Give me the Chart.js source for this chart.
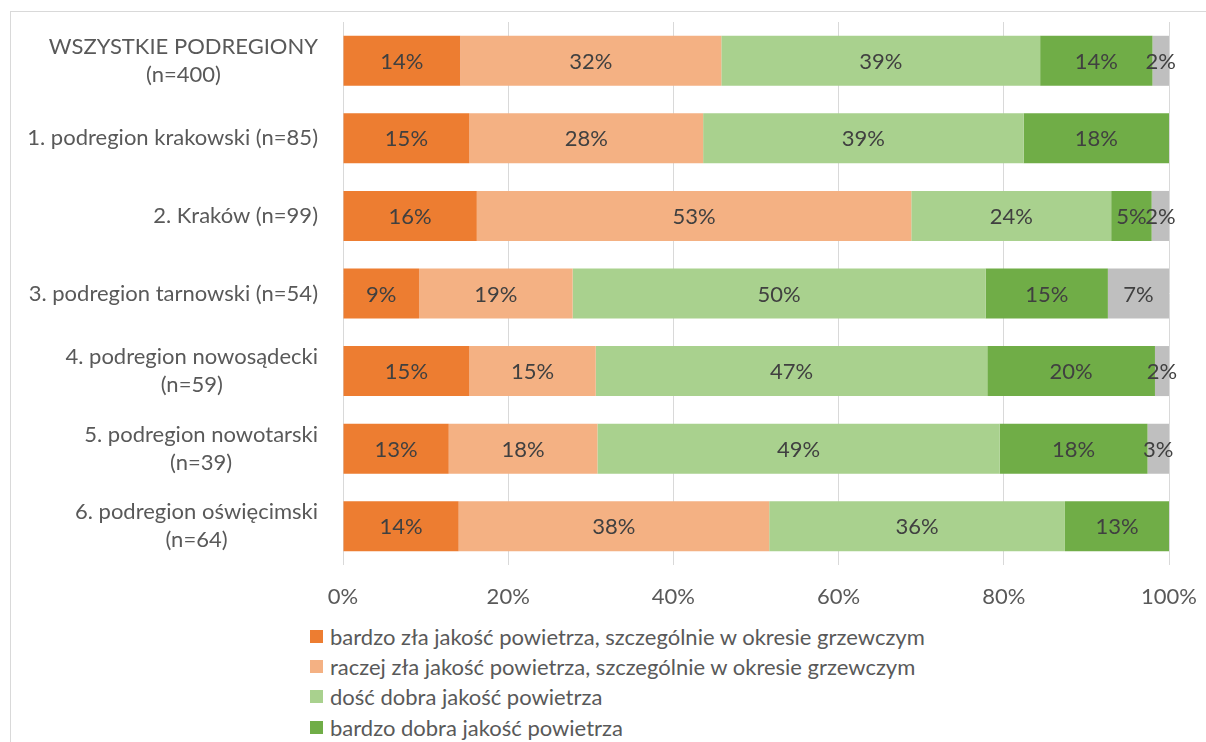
<!DOCTYPE html>
<html lang="pl">
<head>
<meta charset="utf-8">
<title>Jakość powietrza – podregiony</title>
<script src="https://cdn.jsdelivr.net/npm/chart.js@4.4.1/dist/chart.umd.min.js"></script>
<style>
  html, body { margin: 0; padding: 0; background: #fff; overflow: hidden; }
  body { width: 1206px; height: 742px; position: relative; font-family: Lato, "Open Sans", sans-serif; }
  #frame { position: absolute; left: 10px; top: 11px; width: 1300px; height: 900px; border: 1px solid #d9d9d9; box-sizing: border-box; }
  #wrap { position: absolute; left: 0; top: 0; width: 1206px; height: 615px; }
  #legend { position: absolute; left: 310px; top: 621px; margin: 0; padding: 0; list-style: none; }
  #legend li { display: flex; align-items: center; height: 30.4px; font-size: 22px; color: #595959; white-space: nowrap; }
  #legend span.box { display: inline-block; width: 13px; height: 13px; margin-right: 7px; }
</style>
</head>
<body>
<div id="frame"></div>
<div id="wrap"><canvas id="myChart"></canvas></div>
<ul id="legend"></ul>
<script>
const categories = [
  ['WSZYSTKIE PODREGIONY', '(n=400)'],
  '1. podregion krakowski (n=85)',
  '2. Kraków (n=99)',
  '3. podregion tarnowski (n=54)',
  ['4. podregion nowosądecki', '(n=59)'],
  ['5. podregion nowotarski', '(n=39)'],
  ['6. podregion oświęcimski', '(n=64)']
];

const seriesNames = [
  'bardzo zła jakość powietrza, szczególnie w okresie grzewczym',
  'raczej zła jakość powietrza, szczególnie w okresie grzewczym',
  'dość dobra jakość powietrza',
  'bardzo dobra jakość powietrza',
  'trudno powiedzieć'
];

// percent of answers per subregion
const veryBad  = [14.2, 15.3, 16.2,  9.2, 15.3, 12.8, 14.0];
const ratherBad = [31.6, 28.3, 52.6, 18.6, 15.3, 18.0, 37.6];
const fairlyGood = [38.6, 38.8, 24.2, 50.0, 47.4, 48.7, 35.8];
const veryGood = [13.6, 17.6,  4.9, 14.8, 20.3, 17.9, 12.6];
const dontKnow = [ 2.0,  0.0,  2.1,  7.4,  1.7,  2.6,  0.0];

const xTicks = [0, 20, 40, 60, 80, 100];

const seriesColors = [
  '#ED7D31', // ciemny pomarańcz
  '#F4B183', // jasny pomarańcz
  '#A9D18E', // jasna zieleń
  '#70AD47', // zieleń
  '#BFBFBF'  // szary
];

const textFont = 'Lato, "Open Sans", sans-serif';
const fontSize = 22;

// labels inside the bar segments
const segmentLabels = {
  id: 'segmentLabels',
  afterDatasetsDraw(chart) {
    const ctx = chart.ctx;
    ctx.save();
    ctx.font = fontSize + 'px ' + textFont;
    ctx.fillStyle = '#404040';
    ctx.textAlign = 'center';
    ctx.textBaseline = 'middle';
    chart.data.datasets.forEach((ds, i) => {
      const meta = chart.getDatasetMeta(i);
      meta.data.forEach((bar, j) => {
        const v = ds.data[j];
        if (!v) return;
        ctx.fillText(Math.round(v) + '%', (bar.x + bar.base) / 2, bar.y + 1);
      });
    });
    ctx.restore();
  }
};

// category names: block right aligned, lines centred on each other
const categoryLabels = {
  id: 'categoryLabels',
  afterDraw(chart) {
    const ctx = chart.ctx;
    const yScale = chart.scales.y;
    const right = chart.chartArea.left - 25;
    const lineGap = 28;
    ctx.save();
    ctx.font = fontSize + 'px ' + textFont;
    ctx.fillStyle = '#595959';
    ctx.textAlign = 'center';
    ctx.textBaseline = 'middle';
    chart.data.labels.forEach((label, i) => {
      const lines = Array.isArray(label) ? label : [label];
      const w = Math.max(...lines.map(l => ctx.measureText(l).width));
      const cx = right - w / 2;
      const cy = yScale.getPixelForValue(i);
      lines.forEach((line, k) => {
        ctx.fillText(line, cx, cy + (k - (lines.length - 1) / 2) * lineGap);
      });
    });
    ctx.restore();
  }
};

function buildLegend(chart) {
  const list = document.getElementById('legend');
  list.innerHTML = '';
  chart.data.datasets.forEach(ds => {
    const li = document.createElement('li');
    const box = document.createElement('span');
    box.className = 'box';
    box.style.background = ds.backgroundColor;
    li.appendChild(box);
    li.appendChild(document.createTextNode(ds.label));
    list.appendChild(li);
  });
}

function loadChart() {
  const ctx = document.getElementById('myChart');
  const values = [veryBad, ratherBad, fairlyGood, veryGood, dontKnow];

  const myChart = new Chart(ctx, {
    type: 'bar',
    data: {
      labels: categories,
      datasets: values.map((data, i) => ({
        label: seriesNames[i],
        data: data,
        backgroundColor: seriesColors[i],
        borderWidth: 0,
        categoryPercentage: 1,
        barPercentage: 0.645
      }))
    },
    options: {
      indexAxis: 'y',
      responsive: true,
      maintainAspectRatio: false,
      animation: false,
      layout: { padding: { top: 22, right: 37, left: 0, bottom: 0 } },
      plugins: {
        legend: { display: false },
        tooltip: { enabled: false }
      },
      scales: {
        x: {
          stacked: true,
          min: 0,
          max: 100,
          afterBuildTicks(scale) {
            scale.ticks = xTicks.map(v => ({ value: v }));
          },
          afterFit(scale) {
            scale.height = 50;
            scale.paddingLeft = 0;
            scale.paddingRight = 0;
          },
          grid: { color: '#d9d9d9', lineWidth: 1, drawTicks: false },
          border: { display: false },
          ticks: {
            padding: 19,
            color: '#595959',
            font: { family: textFont, size: fontSize },
            callback: v => v + '%'
          }
        },
        y: {
          stacked: true,
          afterFit(scale) { scale.width = 343; },
          grid: { display: false },
          border: { display: false },
          ticks: { display: false }
        }
      }
    },
    plugins: [segmentLabels, categoryLabels]
  });

  buildLegend(myChart);
}

document.fonts.load(fontSize + 'px Lato').then(loadChart, loadChart);
</script>
</body>
</html>
